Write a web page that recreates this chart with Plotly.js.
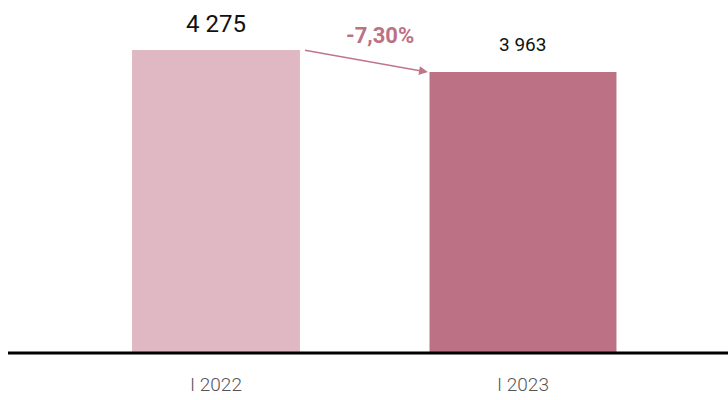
<!DOCTYPE html>
<html><head><meta charset="utf-8">
<script src="https://cdn.plot.ly/plotly-3.0.1.min.js"></script>
<style>html,body{margin:0;padding:0;background:#fff}#c{width:728px;height:400px}</style>
</head><body><div id="c"></div>
<script>
const categories = ["I 2022", "I 2023"];
const values = [4275, 3963];
const valueLabels = ["4 275", "3 963"];
const changeLabel = "-7,30%";

const xs = [0, 1];
const trace = {
  type: "bar",
  x: xs,
  y: values,
  width: [0.547, 0.609],
  marker: {color: ["#dfb8c3", "#bd7185"]},
  hoverinfo: "skip"
};

const annotations = [
  {x: xs[0], y: values[0], xref: "x", yref: "y", text: valueLabels[0], showarrow: false,
   yanchor: "bottom", yshift: 10, font: {family: "Roboto", size: 24, color: "#111", weight: 400}},
  {x: xs[1], y: values[1], xref: "x", yref: "y", text: valueLabels[1], showarrow: false,
   yanchor: "bottom", yshift: 14, font: {family: "Roboto", size: 19, color: "#111"}},
  {x: 0.535, y: (values[0] + values[1]) / 2, xref: "x", yref: "y", text: changeLabel, showarrow: false,
   yanchor: "bottom", yshift: 11, font: {family: "Roboto", size: 22, color: "#bd7185", weight: 700}},
  {x: 0.69, y: values[1], ax: 0.285, ay: values[0], xref: "x", yref: "y", axref: "x", ayref: "y",
   text: "", showarrow: true, arrowhead: 2, arrowsize: 1.1, arrowwidth: 1.6, arrowcolor: "#c07689", standoff: 0, startstandoff: 0}
];

const layout = {
  width: 728, height: 400,
  margin: {l: 8, r: 0, t: 0, b: 47},
  paper_bgcolor: "#fff", plot_bgcolor: "#fff",
  showlegend: false,
  xaxis: {range: [-0.6775, 1.6678], tickvals: xs, ticktext: categories, showgrid: false, zeroline: false,
    showline: false, ticks: "", ticklabelstandoff: 18,
    tickfont: {family: "Roboto", size: 19, color: "#555", weight: 300}, fixedrange: true},
  yaxis: {range: [0, 4980], visible: false, showgrid: false, zeroline: false, fixedrange: true},
  shapes: [{type: "line", xref: "paper", yref: "paper", x0: 0, x1: 1, y0: 0, y1: 0, line: {color: "#000", width: 3}}],
  annotations: annotations
};
Plotly.newPlot("c", [trace], layout, {displayModeBar: false, staticPlot: true});
</script></body></html>
